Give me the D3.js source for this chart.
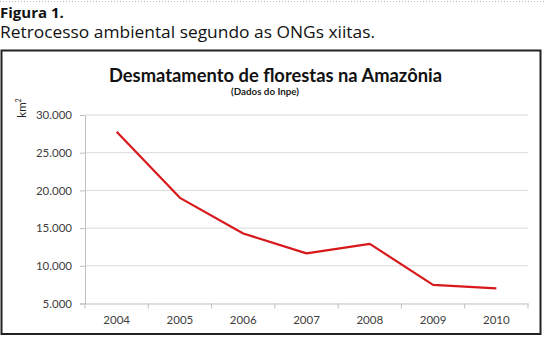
<!DOCTYPE html>
<html><head><meta charset="utf-8">
<script src="https://cdn.jsdelivr.net/npm/d3@7"></script>
<style>body{margin:0;background:#fff}svg{display:block}</style>
</head><body>
<script>
const years = ["2004","2005","2006","2007","2008","2009","2010"];
const deforestation = [27772, 19014, 14286, 11651, 12911, 7464, 7000];
const yTicks = [5000, 10000, 15000, 20000, 25000, 30000];
const figLabel = "Figura 1.";
const caption = "Retrocesso ambiental segundo as ONGs xiitas.";
const title = "Desmatamento de florestas na Amazônia";
const subtitle = "(Dados do Inpe)";
const yUnit = "km";

const W = 544, H = 337;
const svg = d3.select("body").append("svg").attr("width", W).attr("height", H);
svg.append("rect").attr("width", W).attr("height", H).attr("fill", "#fff");

// dotted top line
svg.append("line").attr("x1", 0).attr("x2", W).attr("y1", 1.5).attr("y2", 1.5)
  .attr("stroke", "#bbb").attr("stroke-dasharray", "1,2");

svg.append("text").attr("x", 0).attr("y", 18).text(figLabel)
  .attr("font-family", "Open Sans").attr("font-weight", "bold").attr("font-size", 15).attr("fill", "#111");
svg.append("text").attr("x", 0).attr("y", 38).text(caption)
  .attr("font-family", "Open Sans").attr("font-size", 15.5).attr("fill", "#111")
  .attr("textLength", 375).attr("lengthAdjust", "spacingAndGlyphs");

// frame
svg.append("rect").attr("x", 1.5).attr("y", 50.5).attr("width", 539).attr("height", 283.5)
  .attr("fill", "#fff").attr("stroke", "#222").attr("stroke-width", 2);

svg.append("text").attr("x", 275.5).attr("y", 81.5).attr("text-anchor", "middle").text(title)
  .attr("font-family", "Lato").attr("font-weight", "bold").attr("font-size", 18.5).attr("fill", "#111")
  .attr("textLength", 333).attr("lengthAdjust", "spacingAndGlyphs");
svg.append("text").attr("x", 265).attr("y", 95).attr("text-anchor", "middle").text(subtitle)
  .attr("font-family", "Lato").attr("font-weight", "bold").attr("font-size", 9.5).attr("fill", "#222")
  .attr("textLength", 68).attr("lengthAdjust", "spacingAndGlyphs");

const u = svg.append("text").attr("transform", "translate(26,108) rotate(-90)").attr("text-anchor", "middle")
  .attr("font-family", "Lato").attr("font-size", 11.5).attr("fill", "#222");
u.append("tspan").text(yUnit);
u.append("tspan").text("2").attr("font-size", 7).attr("dy", -5);

const x = d3.scaleBand().domain(years).range([85, 528]);
const y = d3.scaleLinear().domain([5000, 30000]).range([303.5, 115]);

const fmt = d => d3.format(",")(d).replace(/,/g, ".");

// gridlines
svg.append("g").selectAll("line").data(yTicks.filter(t => t > 5000)).join("line")
  .attr("x1", 85).attr("x2", 528).attr("y1", d => y(d)).attr("y2", d => y(d))
  .attr("stroke", "#d9d9d9").attr("stroke-width", 1);

const gy = svg.append("g").attr("transform", "translate(85,0)")
  .call(d3.axisLeft(y).tickValues(yTicks).tickFormat(fmt).tickSize(5).tickPadding(8));
gy.select(".domain").attr("stroke", "#bfbfbf");
gy.selectAll(".tick line").attr("stroke", "#bfbfbf");
gy.selectAll("text").attr("font-family", "Lato").attr("font-size", 11.5).attr("fill", "#404040");

const gx = svg.append("g").attr("transform", "translate(0,303.5)")
  .call(d3.axisBottom(x).tickSize(0).tickPadding(12));
gx.select(".domain").attr("stroke", "#bfbfbf");
gx.selectAll("text").attr("font-family", "Lato").attr("font-size", 11.5).attr("fill", "#404040");
// tick marks at band boundaries
gx.append("g").selectAll("line").data(years.concat(["end"])).join("line")
  .attr("x1", (d, i) => i < years.length ? x(d) : x.range()[1])
  .attr("x2", (d, i) => i < years.length ? x(d) : x.range()[1])
  .attr("y1", 0).attr("y2", 5).attr("stroke", "#bfbfbf");

const line = d3.line().x((d, i) => x(years[i]) + x.bandwidth() / 2).y(d => y(d));
svg.append("path").datum(deforestation).attr("d", line)
  .attr("fill", "none").attr("stroke", "#d7191c").attr("stroke-width", 2.2).attr("stroke-linejoin", "round");
</script>
</body></html>
